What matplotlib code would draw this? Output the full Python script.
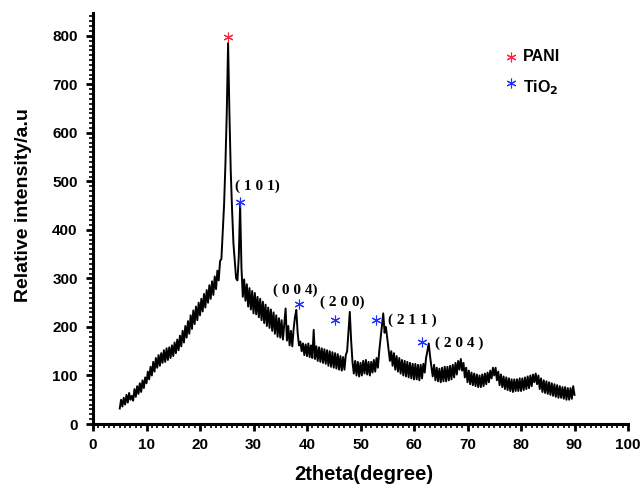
import numpy as np
import matplotlib
matplotlib.use("Agg")
import matplotlib.pyplot as plt

# ---- data -------------------------------------------------------------
two_theta_start, two_theta_step = 5.0, 0.25
intensity = [
    32, 50, 36, 54, 40, 60, 44, 64, 50, 58, 48, 72, 56, 78, 62, 84, 66, 90, 74, 96,
    84, 108, 92, 118, 100, 128, 108, 136, 116, 142, 120, 146, 126, 152, 128, 156, 132, 158, 136, 162,
    140, 168, 146, 174, 152, 182, 160, 192, 168, 202, 178, 212, 186, 224, 196, 234, 206, 242, 214, 250,
    224, 258, 232, 268, 240, 276, 250, 286, 258, 294, 266, 304, 278, 316, 296, 336, 340, 396, 452, 535,
    640, 785, 640, 520, 440, 372, 336, 300, 296, 345, 452, 322, 262, 298, 254, 288, 242, 280, 236, 274,
    228, 270, 226, 262, 220, 258, 214, 252, 208, 246, 202, 240, 198, 236, 192, 230, 186, 224, 180, 218,
    178, 214, 174, 206, 238, 172, 202, 162, 192, 160, 196, 220, 235, 188, 162, 170, 150, 166, 142, 164,
    140, 166, 138, 162, 136, 194, 134, 160, 130, 158, 128, 156, 126, 154, 124, 152, 120, 150, 118, 148,
    116, 146, 114, 144, 112, 140, 110, 138, 112, 142, 150, 192, 231, 172, 128, 104, 130, 100, 128, 98,
    126, 100, 130, 104, 132, 102, 128, 100, 128, 106, 132, 108, 136, 116, 150, 176, 202, 228, 188, 200,
    176, 154, 130, 150, 120, 146, 112, 140, 108, 136, 104, 132, 100, 130, 98, 128, 96, 126, 94, 124,
    92, 124, 92, 122, 90, 122, 94, 124, 106, 136, 150, 166, 140, 118, 98, 122, 90, 116, 88, 114,
    86, 116, 88, 118, 88, 118, 90, 120, 92, 122, 96, 126, 102, 130, 112, 134, 110, 126, 96, 116,
    86, 110, 82, 106, 80, 104, 78, 102, 76, 100, 76, 102, 78, 104, 82, 106, 86, 110, 94, 116,
    100, 116, 90, 108, 80, 102, 76, 98, 72, 96, 70, 94, 68, 92, 66, 92, 68, 92, 68, 94,
    68, 94, 70, 96, 72, 98, 74, 100, 78, 102, 86, 104, 82, 100, 72, 94, 66, 90, 64, 88,
    62, 86, 60, 84, 58, 82, 56, 80, 54, 78, 54, 76, 52, 76, 50, 74, 50, 74, 52, 78,
    60,
]
two_theta = np.arange(len(intensity)) * two_theta_step + two_theta_start

pani_peak = (25.2, 798)
tio2_marks_x = [27.5, 38.5, 45.2, 52.9, 61.5]
tio2_marks_y = [458, 247, 214, 214, 169]
hkl_labels = ["( 1 0 1)", "( 0 0 4)", "( 2 0 0)", "( 2 1 1 )", "( 2 0 4 )"]
hkl_x = [30.8, 37.8, 46.5, 59.6, 68.4]
hkl_y = [489, 276, 251, 214, 167]

x_ticks = list(range(0, 101, 10))
y_ticks = list(range(0, 801, 100))

# ---- figure -----------------------------------------------------------
plt.rcParams['font.family'] = ['Liberation Sans', 'DejaVu Sans']
fig = plt.figure(figsize=(6.44, 4.86), dpi=100)
ax = fig.add_axes([93/644, 62/486, (628-93)/644, (424-13)/486])

ax.plot(two_theta, intensity, color='black', lw=1.4)

ax.set_xlim(0, 100)
ax.set_ylim(0, 847)
ax.set_xticks(x_ticks)
ax.set_yticks(y_ticks)
ax.set_xticks(np.arange(0, 101, 1), minor=True)
ax.set_yticks(np.arange(0, 841, 10), minor=True)
ax.tick_params(which='major', direction='out', length=5, width=2, labelsize=11)
ax.tick_params(which='minor', direction='out', length=3, width=1.2)
ax.tick_params(axis='x', which='major', pad=5)
ax.tick_params(axis='y', which='major', pad=6)
for lbl in ax.get_xticklabels() + ax.get_yticklabels():
    lbl.set_fontweight('bold')

for s in ['top', 'right']:
    ax.spines[s].set_visible(False)
for s in ['left', 'bottom']:
    ax.spines[s].set_linewidth(2.2)

ax.set_xlabel('2theta(degree)', fontsize=14.5, fontweight='bold')
ax.set_ylabel('Relative intensity/a.u', fontsize=14, fontweight='bold')
ax.xaxis.set_label_coords(0.5065, -0.100)
ax.yaxis.set_label_coords(-0.130, 0.533)
ax.yaxis.label.set_va('center')

star = (6, 2, 0)
ax.plot([pani_peak[0]], [pani_peak[1]], ls='none', marker=star, ms=7, mew=0.8, color='#ff2040')
ax.plot(tio2_marks_x, tio2_marks_y, ls='none', marker=star, ms=7, mew=0.8, color='#2030ff')

for t, x, y in zip(hkl_labels, hkl_x, hkl_y):
    ax.text(x, y, t, ha='center', va='center', fontsize=11, fontweight='bold',
            family=['Liberation Serif', 'DejaVu Serif'])

# legend
ax.plot([78.1], [757], ls='none', marker=star, ms=7, mew=0.8, color='#ff2040', clip_on=False)
ax.plot([78.1], [703], ls='none', marker=star, ms=7, mew=0.8, color='#2030ff', clip_on=False)
ax.text(80.4, 757, 'PANI', ha='left', va='center', fontsize=11.5, fontweight='bold')
ax.text(80.4, 694, r'TiO$_\mathbf{2}$', ha='left', va='center', fontsize=11.5, fontweight='bold')

fig.savefig('out.png', dpi=100)
